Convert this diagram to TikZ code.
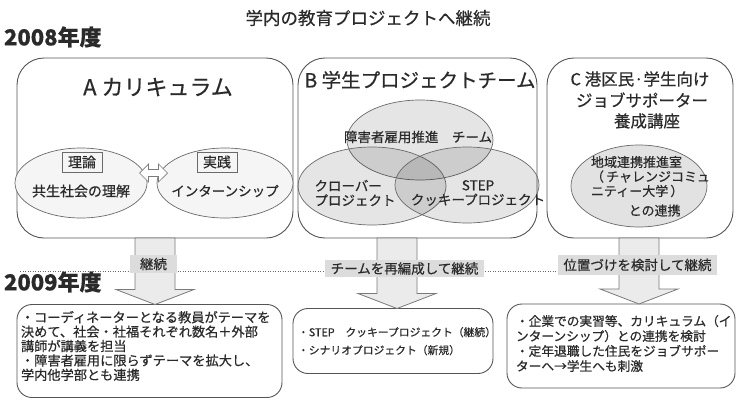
\documentclass[tikz,border=0pt]{standalone}
\usepackage{fontspec}
\setmainfont{Noto Sans CJK JP}[FakeBold=0.5]
\usetikzlibrary{calc,shapes.geometric,shapes.arrows}
\definecolor{txt}{HTML}{2A2A2A}
\definecolor{boxc}{HTML}{555555}
\definecolor{ellc}{HTML}{6A6A6A}
\definecolor{ellfill}{HTML}{F5F5F5}
\definecolor{cfill}{HTML}{E2E2E2}
\definecolor{arrfill}{HTML}{EBEBEB}
\definecolor{arrc}{HTML}{7A7A7A}
\definecolor{lblfill}{HTML}{DCDCDC}
\newcommand{\setfs}[2]{\fontsize{#1}{#2}\selectfont}
\newcommand{\blockarrow}[2]{%
  \path[arrowfill] let \p1=(#1), \p2=(#2) in
    (\x1-20pt,\y1) -- (\x1-20pt,\y2+15pt) -- (\x1-39pt,\y2+15pt) -- (\x2,\y2)
    -- (\x1+39pt,\y2+15pt) -- (\x1+20pt,\y2+15pt) -- (\x1+20pt,\y1) -- cycle;}
\begin{document}
\begin{tikzpicture}[x=1pt,y=-1pt,
  every node/.style={text=txt,inner sep=0pt,outer sep=0pt},
  bigbox/.style={draw=boxc,line width=0.9pt,rounded corners=27pt,fill=white},
  smallbox/.style={draw=boxc,line width=0.9pt,rounded corners=15pt,fill=white},
  ellA/.style={ellipse,draw=ellc,line width=0.7pt,fill=ellfill},
  vennell/.style={ellipse,draw=ellc,line width=0.7pt,fill=black,fill opacity=0.1},
  cell/.style={ellipse,draw=ellc,line width=0.7pt,fill=cfill},
  tagbox/.style={draw=ellc,line width=0.6pt,fill=ellfill,minimum width=40pt,minimum height=20pt,font=\setfs{14}{16}},
  lbl/.style={fill=lblfill,font=\setfs{13.5}{15}},
  arrowfill/.style={fill=arrfill,draw=arrc,line width=0.8pt},
  dotline/.style={draw=ellc,line width=0.6pt,dash pattern=on 1pt off 1.5pt}
]
\useasboundingbox (0,0) rectangle (740,405);

% titles
\node[font=\setfs{17.5}{19}] (title) at (368,18) {学内の教育プロジェクトへ継続};
\node[anchor=west,font=\bfseries\setfs{22}{24}] (y2008) at (4,37) {2008年度};

% top boxes
\node[bigbox,minimum width=276pt,minimum height=180pt] (boxA) at (155,148) {};
\node[bigbox,minimum width=239pt,minimum height=180pt] (boxB) at (417.5,148) {};
\node[bigbox,minimum width=186pt,minimum height=180pt] (boxC) at (640,148) {};

% box A content
\node[font=\setfs{22}{24}] (tA) at (158,87) {A カリキュラム};
\node[ellA,minimum width=132pt,minimum height=70pt] (eTh) at (81,183) {};
\node[ellA,minimum width=136pt,minimum height=70pt] (ePr) at (225,183) {};
\node[tagbox] (tagTh) at (82,162) {理論};
\node[tagbox] (tagPr) at (217,162) {実践};
\node[font=\setfs{14}{16}] (thTxt) at (81,191) {共生社会の理解};
\node[font=\setfs{13.5}{16}] (prTxt) at (225,191) {インターンシップ};
\node[double arrow,draw=arrc,fill=white,line width=0.7pt,minimum width=18pt,
      minimum height=28pt,double arrow head extend=3pt,inner sep=1.5pt] (dbl) at (153.5,173) {};

% box B content
\node[font=\setfs{19.5}{22}] (tB) at (420,80) {B 学生プロジェクトチーム};
\node[vennell,minimum width=146pt,minimum height=80pt] (vTop) at (420,140) {};
\node[vennell,minimum width=148pt,minimum height=78pt] (vL) at (372,186) {};
\node[vennell,minimum width=144pt,minimum height=76pt] (vR) at (467,185) {};
\node[font=\setfs{13.5}{15}] (vTopTxt) at (418,137) {障害者雇用推進　チーム};
\node[align=left,font=\setfs{13.5}{14.5}] (vLTxt) at (355,193) {クローバー\\プロジェクト};
\node[align=center,font=\setfs{13.5}{14.5}] (vRTxt) at (478,193) {STEP\\クッキープロジェクト};

% box C content
\node[font=\setfs{16.5}{18}] (tC1) at (640,79) {C 港区民·学生向け};
\node[font=\setfs{16.5}{18}] (tC2) at (642,100) {ジョブサポーター};
\node[font=\setfs{16.5}{18}] (tC3) at (647,121) {養成講座};
\node[cell,minimum width=136pt,minimum height=82pt] (eC) at (639,186) {};
\node[anchor=north west,align=left,font=\setfs{13}{14.5}] (eCTxt) at (591,156)
  {地域連携推進室\\（\,チャレンジコミュ\\ニティー大学\,）\\[5pt]\hspace{2.9em}との連携};

% bottom boxes
\node[smallbox,minimum width=265pt,minimum height=93pt] (boxA2) at (149.5,351) {};
\node[smallbox,minimum width=200pt,minimum height=65pt] (boxB2) at (393,341) {};
\node[smallbox,minimum width=228pt,minimum height=84pt] (boxC2) at (621,346) {};

\node[anchor=north west,align=left,font=\setfs{13.2}{14.4}] (a2Txt) at (21,311)
  {・コーディネーターとなる教員がテーマを\\決めて、社会・社福それぞれ数名＋外部\\講師が講義を担当\\・障害者雇用に限らずテーマを拡大し、\\学内他学部とも連携};
\node[anchor=north west,align=left,font=\setfs{10.8}{18}] (b2Txt) at (298,327)
  {・STEP　クッキープロジェクト（継続）\\・シナリオプロジェクト（新規）};
\node[anchor=north west,align=left,font=\setfs{12.7}{15}] (c2Txt) at (516,315)
  {・企業での実習等、カリキュラム（イ\\ンターンシップ）との連携を検討\\・定年退職した住民をジョブサポー\\ターへ→学生へも刺激};

% 2009 and dotted divider
\node[anchor=west,font=\bfseries\setfs{22}{24}] (y2009) at (4,282) {2009年度};
\coordinate (dl) at (20,271);
\coordinate (dr) at (558,271);
\draw[dotline] (dl) -- (dr);

% block arrows
\coordinate (colA) at (155,0);
\coordinate (colB) at (397,0);
\coordinate (colC) at (639,0);
\blockarrow{colA |- boxA.south}{colA |- boxA2.north}
\blockarrow{colB |- boxB.south}{colB |- boxB2.north}
\blockarrow{colC |- boxC.south}{colC |- boxC2.north}

% arrow labels
\node[lbl,minimum width=47pt,minimum height=18pt] (lA) at (153.5,264) {継続};
\node[lbl,minimum width=159pt,minimum height=17pt] (lB) at (404.5,268.5) {チームを再編成して継続};
\node[lbl,minimum width=159pt,minimum height=20pt] (lC) at (637.5,265) {位置づけを検討して継続};
\end{tikzpicture}
\end{document}
